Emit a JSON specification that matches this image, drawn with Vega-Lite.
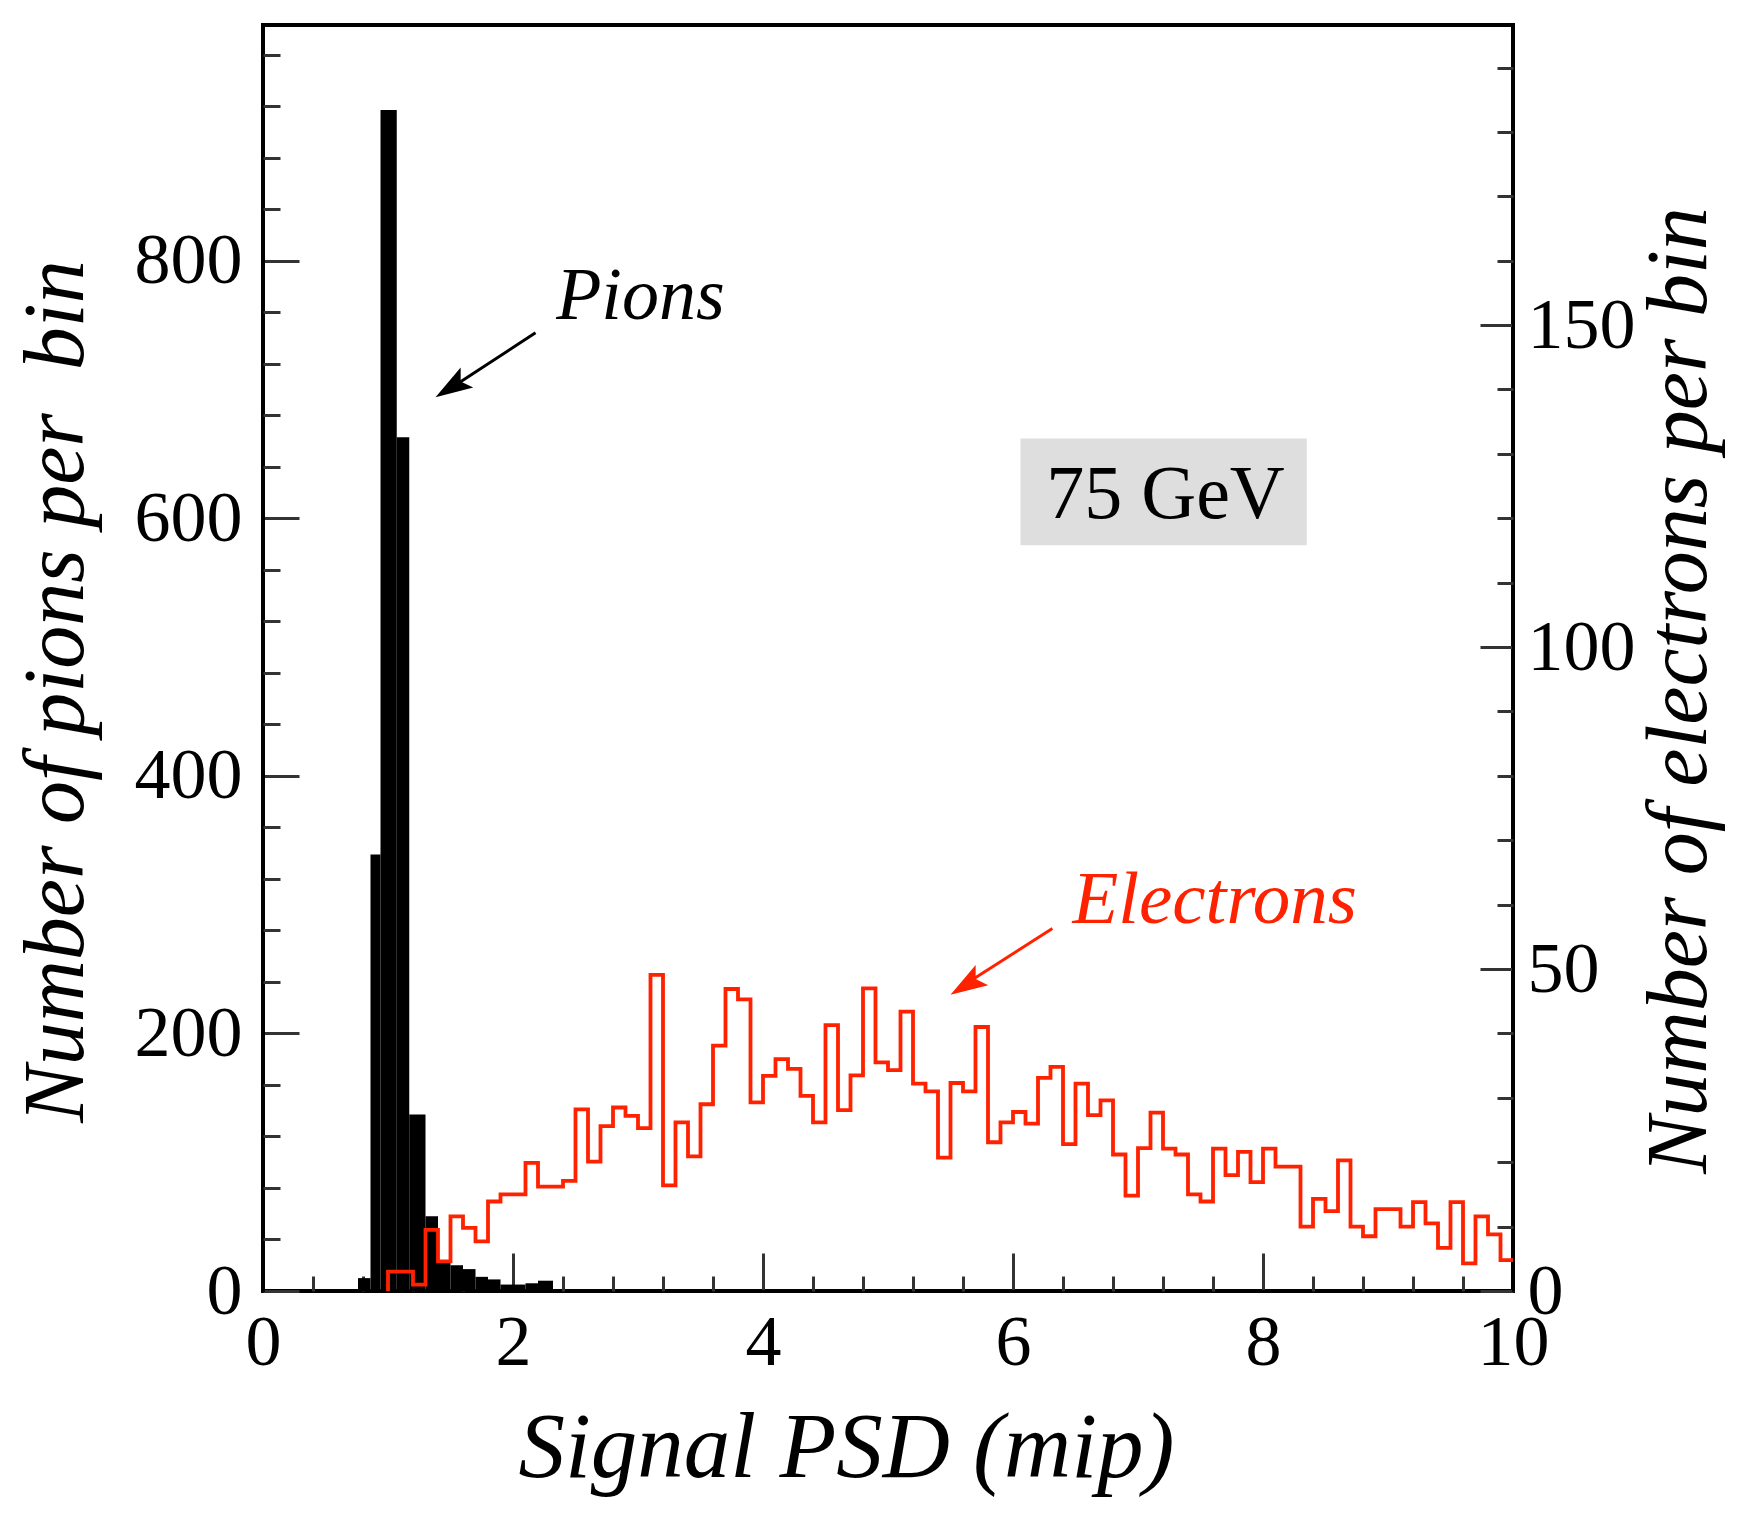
{
  "$schema": "https://vega.github.io/schema/vega-lite/v6.json",
  "width": 1250,
  "height": 1266,
  "autosize": "none",
  "padding": {"left": 263, "top": 25, "right": 230, "bottom": 235},
  "background": "white",
  "config": {
    "view": {"stroke": "black", "strokeWidth": 4},
    "font": "Liberation Serif",
    "axis": {
      "grid": false,
      "domainColor": "black",
      "domainWidth": 3,
      "tickColor": "#333333",
      "tickWidth": 3,
      "labelFont": "Liberation Serif",
      "labelFontSize": 72,
      "labelColor": "black",
      "labelOverlap": false,
      "labelFlush": false,
      "titleFont": "Liberation Serif",
      "titleFontStyle": "italic",
      "titleFontWeight": "normal",
      "titleColor": "black"
    }
  },
  "layer": [
    {
      "layer": [
        {
          "data": {"values": [
            {"lo": 0.76, "hi": 0.86, "n": 10},
            {"lo": 0.86, "hi": 0.94, "n": 339},
            {"lo": 0.94, "hi": 1.07, "n": 917},
            {"lo": 1.07, "hi": 1.17, "n": 663},
            {"lo": 1.17, "hi": 1.30, "n": 137},
            {"lo": 1.30, "hi": 1.40, "n": 58},
            {"lo": 1.40, "hi": 1.50, "n": 22},
            {"lo": 1.50, "hi": 1.60, "n": 20},
            {"lo": 1.60, "hi": 1.70, "n": 17},
            {"lo": 1.70, "hi": 1.80, "n": 11},
            {"lo": 1.80, "hi": 1.90, "n": 9},
            {"lo": 1.90, "hi": 2.00, "n": 5},
            {"lo": 2.00, "hi": 2.10, "n": 5},
            {"lo": 2.10, "hi": 2.20, "n": 6},
            {"lo": 2.20, "hi": 2.32, "n": 8}
          ]},
          "mark": {"type": "bar", "color": "black"},
          "encoding": {
            "x": {
              "field": "lo", "type": "quantitative",
              "scale": {"domain": [0, 10], "nice": false},
              "axis": null
            },
            "x2": {"field": "hi"},
            "y": {
              "field": "n", "type": "quantitative",
              "scale": {"domain": [0, 983], "nice": false},
              "axis": {
                "orient": "left",
                "title": "Number of pions per\u00a0 bin",
                "titleFontSize": 86,
                "titleAngle": 270,
                "titleY": 666,
                "titlePadding": 34,
                "values": [0, 200, 400, 600, 800],
                "tickSize": -36,
                "labelPadding": 57
              }
            },
            "y2": {"datum": 0}
          }
        },
        {
          "data": {"values": [{}]},
          "mark": {"type": "rect", "color": "#dedede"},
          "encoding": {
            "x": {"datum": 6.06, "type": "quantitative", "axis": null},
            "x2": {"datum": 8.35},
            "y": {
              "datum": 662, "type": "quantitative",
              "axis": {
                "orient": "left",
                "title": null,
                "labels": false,
                "domain": false,
                "values": [40, 80, 120, 160, 240, 280, 320, 360, 440, 480, 520, 560, 640, 680, 720, 760, 840, 880, 920, 960],
                "tickSize": -17
              }
            },
            "y2": {"datum": 579}
          }
        },
        {
          "data": {"values": [{}]},
          "mark": {"type": "text", "fontSize": 76, "font": "Liberation Serif", "color": "black", "align": "center", "baseline": "alphabetic"},
          "encoding": {
            "x": {"datum": 7.22, "type": "quantitative", "axis": null},
            "y": {"datum": 600, "type": "quantitative", "axis": null},
            "text": {"value": "75 GeV"}
          }
        },
        {
          "data": {"values": [{}]},
          "mark": {"type": "text", "fontSize": 74, "font": "Liberation Serif", "fontStyle": "italic", "color": "black", "align": "left", "baseline": "alphabetic"},
          "encoding": {
            "x": {"datum": 2.345, "type": "quantitative", "axis": null},
            "y": {"datum": 755, "type": "quantitative", "axis": null},
            "text": {"value": "Pions"}
          }
        },
        {
          "data": {"values": [{}]},
          "mark": {"type": "rule", "color": "black", "strokeWidth": 3},
          "encoding": {
            "x": {"datum": 2.18, "type": "quantitative", "axis": null},
            "x2": {"datum": 1.55},
            "y": {"datum": 744, "type": "quantitative", "axis": null},
            "y2": {"datum": 704}
          }
        },
        {
          "data": {"values": [{}]},
          "mark": {"type": "point", "shape": "M0,0L-0.32,1L0,0.8L0.32,1Z", "filled": true, "opacity": 1, "color": "black", "size": 5500, "angle": 238},
          "encoding": {
            "x": {"datum": 1.38, "type": "quantitative", "axis": null},
            "y": {"datum": 694, "type": "quantitative", "axis": null}
          }
        }
      ],
      "resolve": {"axis": {"y": "independent"}}
    },
    {
      "layer": [
        {
          "data": {"values": [
            {"psd": 1.0, "n": 0}, {"psd": 1.0, "n": 3}, {"psd": 1.1, "n": 3}, {"psd": 1.2, "n": 1}, {"psd": 1.3, "n": 9.5},
            {"psd": 1.4, "n": 4.6}, {"psd": 1.5, "n": 11.6}, {"psd": 1.6, "n": 9.8}, {"psd": 1.7, "n": 7.7},
            {"psd": 1.8, "n": 13.9}, {"psd": 1.9, "n": 15}, {"psd": 2.0, "n": 15}, {"psd": 2.1, "n": 19.9},
            {"psd": 2.2, "n": 16.2}, {"psd": 2.3, "n": 16.2}, {"psd": 2.4, "n": 17.1}, {"psd": 2.5, "n": 28.2},
            {"psd": 2.6, "n": 20.1}, {"psd": 2.7, "n": 25.6}, {"psd": 2.8, "n": 28.5}, {"psd": 2.9, "n": 27.2},
            {"psd": 3.0, "n": 25.3}, {"psd": 3.1, "n": 49.1}, {"psd": 3.2, "n": 16.4}, {"psd": 3.3, "n": 26.2},
            {"psd": 3.4, "n": 20.9}, {"psd": 3.5, "n": 29}, {"psd": 3.6, "n": 38.1}, {"psd": 3.7, "n": 46.9},
            {"psd": 3.8, "n": 45.3}, {"psd": 3.9, "n": 29.3}, {"psd": 4.0, "n": 33.4}, {"psd": 4.1, "n": 36},
            {"psd": 4.2, "n": 34.5}, {"psd": 4.3, "n": 30.3}, {"psd": 4.4, "n": 26.2}, {"psd": 4.5, "n": 41.3},
            {"psd": 4.6, "n": 28.1}, {"psd": 4.7, "n": 33.5}, {"psd": 4.8, "n": 47}, {"psd": 4.9, "n": 35.5},
            {"psd": 5.0, "n": 34.3}, {"psd": 5.1, "n": 43.4}, {"psd": 5.2, "n": 32.2}, {"psd": 5.3, "n": 31},
            {"psd": 5.4, "n": 20.7}, {"psd": 5.5, "n": 32.3}, {"psd": 5.6, "n": 31}, {"psd": 5.7, "n": 41},
            {"psd": 5.8, "n": 23.1}, {"psd": 5.9, "n": 26.2}, {"psd": 6.0, "n": 27.8}, {"psd": 6.1, "n": 26},
            {"psd": 6.2, "n": 33.1}, {"psd": 6.3, "n": 34.8}, {"psd": 6.4, "n": 22.8}, {"psd": 6.5, "n": 32.2},
            {"psd": 6.6, "n": 27.3}, {"psd": 6.7, "n": 29.6}, {"psd": 6.8, "n": 21.2}, {"psd": 6.9, "n": 14.8},
            {"psd": 7.0, "n": 22.2}, {"psd": 7.1, "n": 27.7}, {"psd": 7.2, "n": 22.1}, {"psd": 7.3, "n": 21.2},
            {"psd": 7.4, "n": 15}, {"psd": 7.5, "n": 13.9}, {"psd": 7.6, "n": 22.1}, {"psd": 7.7, "n": 18},
            {"psd": 7.8, "n": 21.6}, {"psd": 7.9, "n": 16.9}, {"psd": 8.0, "n": 22.1}, {"psd": 8.1, "n": 19.3},
            {"psd": 8.2, "n": 19.3}, {"psd": 8.3, "n": 10}, {"psd": 8.4, "n": 14.3}, {"psd": 8.5, "n": 12.4},
            {"psd": 8.6, "n": 20.3}, {"psd": 8.7, "n": 10}, {"psd": 8.8, "n": 8.5}, {"psd": 8.9, "n": 12.7},
            {"psd": 9.0, "n": 12.7}, {"psd": 9.1, "n": 10}, {"psd": 9.2, "n": 13.8}, {"psd": 9.3, "n": 10.5},
            {"psd": 9.4, "n": 6.7}, {"psd": 9.5, "n": 13.8}, {"psd": 9.6, "n": 4.3}, {"psd": 9.7, "n": 11.6},
            {"psd": 9.8, "n": 8.8}, {"psd": 9.9, "n": 4.8}, {"psd": 10.0, "n": 4.8}
          ]},
          "mark": {"type": "line", "interpolate": "step-after", "color": "#ff2200", "strokeWidth": 3.8, "clip": true},
          "encoding": {
            "x": {
              "field": "psd", "type": "quantitative",
              "axis": {
                "orient": "bottom",
                "title": "Signal PSD (mip)",
                "titleFontSize": 93,
                "titleX": 583,
                "titlePadding": 25,
                "values": [0, 2, 4, 6, 8, 10],
                "tickSize": -38,
                "labelPadding": 54
              }
            },
            "y": {
              "field": "n", "type": "quantitative",
              "scale": {"domain": [0, 196.6], "nice": false},
              "axis": {
                "orient": "right",
                "title": "Number of electrons per bin",
                "titleFontSize": 86,
                "titleAngle": 270,
                "titleY": 665,
                "titlePadding": 88,
                "values": [0, 50, 100, 150],
                "tickSize": -33,
                "labelPadding": 47
              }
            }
          }
        },
        {
          "data": {"values": [{}]},
          "mark": {"type": "text", "fontSize": 75, "font": "Liberation Serif", "fontStyle": "italic", "color": "#ff2200", "align": "left", "baseline": "alphabetic"},
          "encoding": {
            "x": {
              "datum": 6.475, "type": "quantitative",
              "axis": {
                "orient": "bottom",
                "title": null,
                "labels": false,
                "domain": false,
                "values": [0.4, 0.8, 1.2, 1.6, 2.4, 2.8, 3.2, 3.6, 4.4, 4.8, 5.2, 5.6, 6.4, 6.8, 7.2, 7.6, 8.4, 8.8, 9.2, 9.6],
                "tickSize": -15
              }
            },
            "y": {
              "datum": 57.2, "type": "quantitative",
              "axis": {
                "orient": "right",
                "title": null,
                "labels": false,
                "domain": false,
                "values": [10, 20, 30, 40, 60, 70, 80, 90, 110, 120, 130, 140, 160, 170, 180, 190],
                "tickSize": -16
              }
            },
            "text": {"value": "Electrons"}
          }
        },
        {
          "data": {"values": [{}]},
          "mark": {"type": "rule", "color": "#ff2200", "strokeWidth": 3},
          "encoding": {
            "x": {"datum": 6.315, "type": "quantitative", "axis": null},
            "x2": {"datum": 5.68},
            "y": {"datum": 56.3, "type": "quantitative", "axis": null},
            "y2": {"datum": 48.4}
          }
        },
        {
          "data": {"values": [{}]},
          "mark": {"type": "point", "shape": "M0,0L-0.32,1L0,0.8L0.32,1Z", "filled": true, "opacity": 1, "color": "#ff2200", "size": 5500, "angle": 238},
          "encoding": {
            "x": {"datum": 5.5, "type": "quantitative", "axis": null},
            "y": {"datum": 46.0, "type": "quantitative", "axis": null}
          }
        }
      ],
      "resolve": {"axis": {"x": "independent", "y": "independent"}}
    }
  ],
  "resolve": {"scale": {"y": "independent"}}
}
